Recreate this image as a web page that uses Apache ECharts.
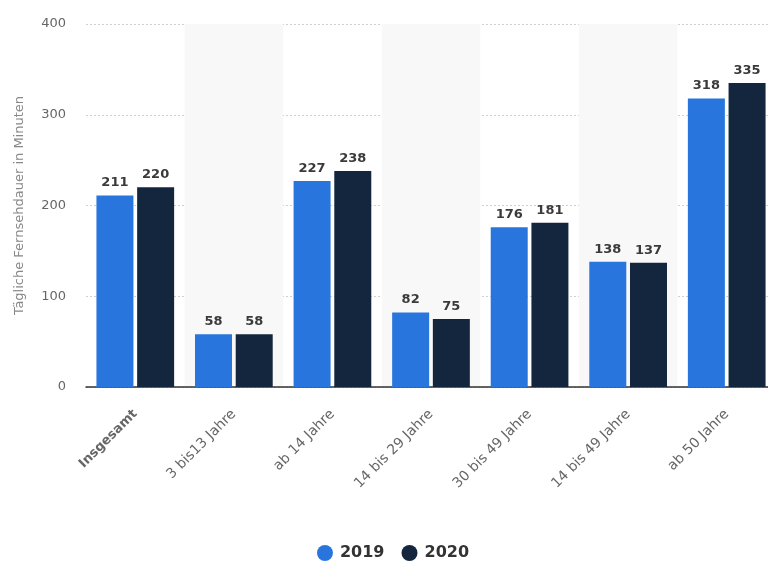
<!DOCTYPE html>
<html>
<head>
<meta charset="utf-8">
<script src="https://cdn.jsdelivr.net/npm/echarts@6/dist/echarts.min.js"></script>
<style>
  html, body { margin: 0; padding: 0; background: #fff; overflow: hidden; }
  #chart { width: 786px; height: 562px; }
</style>
</head>
<body>
<div id="chart"></div>
<script>
// Age groups and daily TV viewing time (minutes)
const categories = ['Insgesamt', '3 bis13 Jahre', 'ab 14 Jahre', '14 bis 29 Jahre', '30 bis 49 Jahre', '14 bis 49 Jahre', 'ab 50 Jahre'];
const values2019 = [211, 58, 227, 82, 176, 138, 318];
const values2020 = [220, 58, 238, 75, 181, 137, 335];
const yTicks = [0, 100, 200, 300, 400];

const chart = echarts.init(document.getElementById('chart'), null, { renderer: 'canvas' });

const labelStyle = {
  show: true,
  position: 'top',
  distance: 6,
  color: '#3a3a3a',
  fontWeight: 'bold',
  fontSize: 13,
  fontFamily: 'DejaVu Sans'
};

chart.setOption({
  animation: false,
  textStyle: { fontFamily: 'DejaVu Sans' },
  grid: { left: 86, right: 10, top: 24, height: 363 },
  legend: {
    top: 540,
    left: 'center',
    icon: 'circle',
    itemWidth: 16,
    itemHeight: 16,
    itemGap: 17,
    textStyle: { color: '#333', fontWeight: 'bold', fontSize: 16, padding: [0, 0, 0, 2], fontFamily: 'DejaVu Sans' },
    data: ['2019', '2020']
  },
  xAxis: {
    type: 'category',
    data: categories,
    axisLine: { lineStyle: { color: '#333', width: 1.5 } },
    axisTick: { show: false },
    splitArea: { show: true, areaStyle: { color: ['rgba(255,255,255,0)', '#f8f8f8'] } },
    axisLabel: {
      interval: 0,
      rotate: 45,
      margin: 25,
      color: '#666',
      fontSize: 14,
      fontFamily: 'DejaVu Sans',
      formatter: function (v) { return v === 'Insgesamt' ? '{b|' + v + '}' : v; },
      rich: { b: { fontWeight: 'bold', color: '#666', fontSize: 13, fontFamily: 'DejaVu Sans' } }
    }
  },
  yAxis: {
    type: 'value',
    min: yTicks[0],
    max: yTicks[yTicks.length - 1],
    interval: 100,
    name: 'Tägliche Fernsehdauer in Minuten',
    nameLocation: 'middle',
    nameGap: 60,
    nameTextStyle: { color: '#888', fontSize: 13, fontFamily: 'DejaVu Sans' },
    axisLine: { show: false },
    axisTick: { show: false },
    axisLabel: { color: '#666', fontSize: 13, margin: 20, fontFamily: 'DejaVu Sans' },
    splitLine: { lineStyle: { color: '#cfcfcf', type: [2, 2], width: 1 } }
  },
  series: [
    {
      name: '2019',
      type: 'bar',
      data: values2019,
      barWidth: 37,
      barGap: '10%',
      itemStyle: { color: '#2876dd' },
      label: labelStyle
    },
    {
      name: '2020',
      type: 'bar',
      data: values2020,
      barWidth: 37,
      itemStyle: { color: '#14263d' },
      label: labelStyle
    }
  ]
});
</script>
</body>
</html>
